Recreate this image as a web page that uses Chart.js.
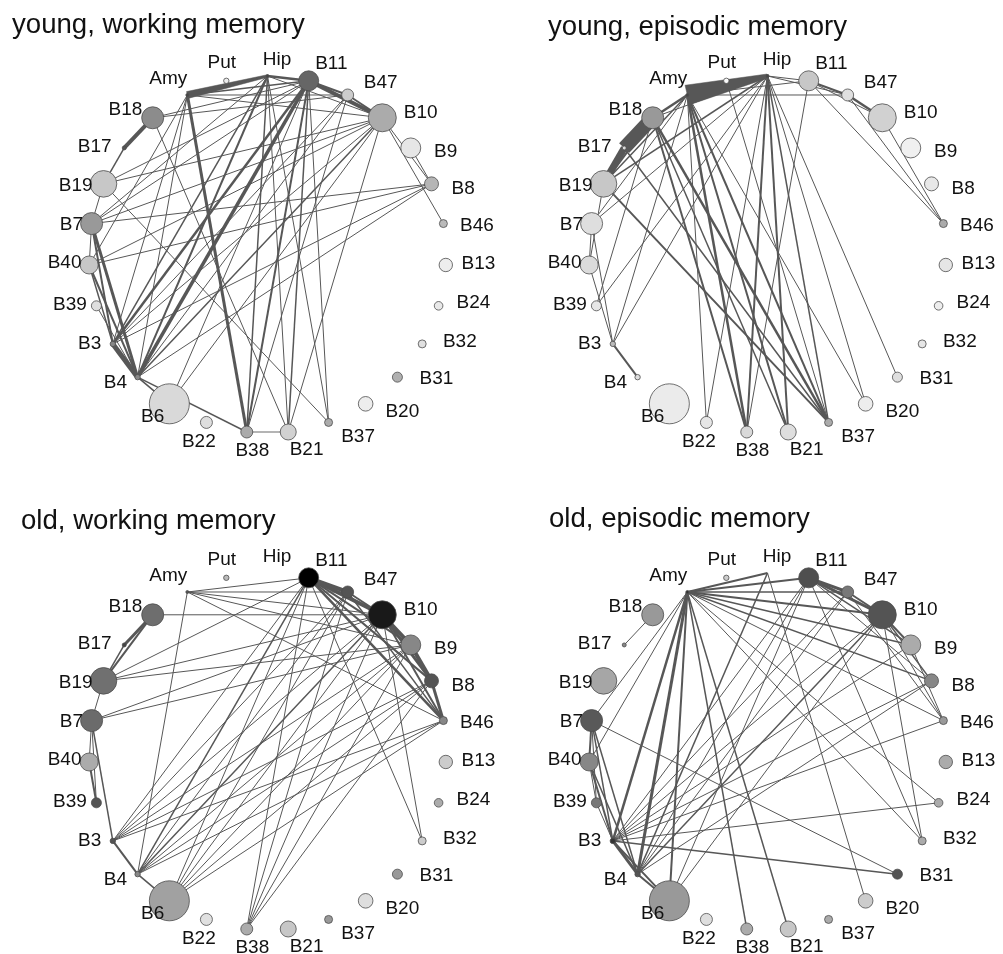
<!DOCTYPE html>
<html><head><meta charset="utf-8">
<script src="https://cdn.jsdelivr.net/npm/chart.js@4.4.1/dist/chart.umd.min.js"></script>
<style>
html,body{margin:0;padding:0;background:#fff;width:1003px;height:954px;overflow:hidden;}
.panel{position:absolute;}
canvas{display:block;}
</style></head><body>
<div class="panel" style="left:0;top:0"><canvas id="c0" width="500" height="497"></canvas></div>
<div class="panel" style="left:500px;top:0"><canvas id="c1" width="503" height="497"></canvas></div>
<div class="panel" style="left:0;top:497px"><canvas id="c2" width="500" height="457"></canvas></div>
<div class="panel" style="left:500px;top:497px"><canvas id="c3" width="503" height="457"></canvas></div>
<script>
// ---------------- data ----------------
const nodes = ["Hip","Put","Amy","B18","B17","B19","B7","B40","B39","B3","B4","B6","B22","B38","B21","B37","B20","B31","B32","B24","B13","B46","B8","B9","B10","B47","B11"];
// relative node size (same in every panel)
const nodeSize = [0.75,1.35,0.75,5.5,1,6.65,5.5,4.5,2.5,1.35,1.35,10,3,3,4,2,3.65,2.5,2,2.15,3.35,2,3.5,5,7,3,5];
// node shading (0 = white, 1 = black) per panel; null = no value
const shadeYoungWM = [.73,.07,.73,.45,.67,.22,.4,.22,.13,.47,.47,.15,.13,.33,.18,.33,.07,.31,.12,.09,.07,.27,.29,.1,.33,.2,.6];
const shadeYoungEM = [.73,.02,.73,.4,.15,.22,.13,.14,.1,.27,.13,.08,.1,.15,.13,.33,.07,.13,.1,.07,.1,.33,.09,.06,.18,.12,.22];
const shadeOldWM   = [null,.27,.67,.57,.73,.56,.58,.33,.67,.67,.47,.37,.12,.33,.22,.4,.13,.4,.2,.33,.2,.47,.67,.47,.9,.67,1.0];
const shadeOldEM   = [null,.2,.8,.4,.47,.35,.65,.47,.53,.8,.67,.4,.13,.33,.22,.33,.2,.67,.33,.33,.33,.4,.47,.33,.67,.53,.69];
// edges: [from, to, strength at "from", optional strength at "to"]; negative = weaker (light) link
const edgesYoungWM = [
 ["Amy","Hip",7,2.5],["Hip","B11",2.5],["Amy","B11",1.5],["B11","B47",2],["B11","B10",4],["B47","B10",2],["Hip","B10",1],["Amy","B10",1],["Amy","B47",1],["B10","B8",1],["B10","B46",1],["B9","B8",1],
 ["B18","B17",4],["B17","B19",1.5],["B19","B7",1],["B7","B40",1],["B7","B4",3],["B7","B3",2],["B40","B4",2],["B40","B3",1.5],["B39","B4",1],["B3","B4",5],["B4","B6",1.5],["B4","B38",1.5],
 ["B38","B21",-2],["Amy","B38",3],["Hip","B38",1.5],["B11","B38",2],["B11","B21",1.5],["Hip","B21",1],["B10","B21",1],["B47","B38",1],["B11","B4",3.5],["B11","B3",2.5],["Hip","B4",2],["Hip","B3",1.5],
 ["B10","B4",1.5],["B10","B3",1],["B8","B3",1],["B8","B4",1],["B8","B40",1],["B10","B7",1],["B10","B40",1],["B10","B19",1],["B11","B7",1],["B11","B19",1],["Amy","B4",1],["Amy","B3",1],["Amy","B40",1],
 ["Hip","B7",1],["B18","B11",1],["B18","B21",1],["B19","B37",1],["B11","B37",1],["Hip","B37",1],["B6","B11",1],["B6","B10",1],["B47","B3",1],["B47","B4",1],["B18","B47",1],["B7","B8",1]
];
const edgesYoungEM = [
 ["Amy","Hip",20,4],["B17","B18",14],["B17","B19",7],["B18","B19",2],["B18","Amy",2.5],["B19","Amy",1.5],["Hip","B11",1],["Amy","B11",1],["B11","B47",2],["B47","B10",2.5],["B11","B10",1],
 ["Amy","B47",1],["Hip","B47",1],["B11","B46",1],["B47","B46",1],["B10","B46",1],["Amy","B38",2.5],["Amy","B21",2],["Amy","B37",2],["Amy","B22",1],["Amy","B20",1],["Amy","B3",1],
 ["Hip","B38",2],["Hip","B21",2],["Hip","B37",1.5],["Hip","B20",1],["Hip","B31",1],["Hip","B22",1],["Hip","B3",1],["Hip","B39",1],["Hip","B19",1.5],["Hip","B7",1],
 ["B18","B37",2.5],["B19","B37",2],["B18","B38",2],["B17","B37",1.5],["Put","B37",1],["B18","B39",1],["B7","B40",1],["B40","B3",1],["B7","B3",1],["B3","B4",2],["B11","B38",1],["B19","B40",1],
 ["B7","Amy",1],["B18","B21",1.5],["Hip","B18",1]
];
const edgesOldWM = [
 ["B11","B47",4],["B11","B10",4],["B47","B10",2],["B10","B9",4],["B9","B8",4],["B10","B8",3],["B8","B46",3],["B11","B8",2],["B11","B46",2.5],["B11","B9",2],["B10","B46",2],["B47","B46",1.5],
 ["Amy","B11",1],["Amy","B47",1],["Amy","B10",1],["Amy","B9",1],["Amy","B46",1],
 ["B18","B10",1],["B18","B17",3],["B18","B19",2],["B17","B19",1.5],["B19","B11",1],["B19","B10",1],["B19","B9",1],["B7","B10",1],["B7","B9",1],["B19","B7",1],["B7","B40",1],["B7","B3",1.5],["B40","B39",2],["B7","B39",1],
 ["B3","B4",2],["B4","B6",1.5],
 ["B3","B11",1],["B3","B47",1],["B3","B10",1],["B3","B9",1],["B3","B8",1],["B3","B46",1],
 ["B4","B11",1.5],["B4","B47",1],["B4","B10",1.5],["B4","B9",1],["B4","B8",1],["B4","B46",1],["B4","Amy",1],
 ["B6","B11",1],["B6","B47",1],["B6","B10",1],["B6","B9",1],["B6","B8",1],["B6","B46",1],
 ["B38","B11",1],["B38","B47",1],["B38","B10",1],["B38","B9",1],["B38","B8",1],
 ["B32","B11",1],["B32","B10",1]
];
const edgesOldEM = [
 ["Amy","Hip",2],["Hip","B4",1.5],["Amy","B11",2],["Amy","B47",1.5],["Amy","B10",2],["Amy","B9",1.5],["Amy","B8",1.5],["Amy","B46",1],
 ["Amy","B7",1],["Amy","B40",1],["Amy","B3",2.5],["Amy","B4",3],["Amy","B6",2],["Amy","B38",1.5],["Amy","B21",1.5],["Amy","B32",1],["Amy","B24",1],
 ["B11","B47",3],["B11","B10",3],["B47","B10",2],["B10","B9",2],["B10","B8",1.5],["B11","B9",1.5],["B11","B8",1],["B47","B46",1],["B10","B46",1],["B9","B46",1],
 ["B11","B3",1],["B11","B4",1],["B11","B6",1],["B11","B32",1],["B47","B3",1],["B47","B4",1],["B10","B3",1],["B10","B4",1.5],["B10","B6",1],["B10","B32",1],["B9","B3",1],["B8","B3",1],["B46","B3",1],["B8","B4",1],
 ["Hip","B20",1],
 ["B7","B40",2],["B7","B39",1],["B7","B3",1.5],["B7","B4",1.5],["B7","B31",1],["B40","B39",1],["B40","B3",2],["B40","B4",1.5],["B39","B3",1],["B3","B4",3],["B3","B6",2],["B4","B6",2],["B3","B24",1],["B3","B31",1.5],["B18","B17",1]
];
const titles = ["young, working memory","young, episodic memory","old, working memory","old, episodic memory"];

// ---------------- drawing ----------------
const FONT = '"Liberation Sans", Arial, Helvetica, sans-serif';
const U = 178.6, CX = 267.5, CY = 254.6;
const N = nodes.length;
const angDeg = i => (90 + i * 360 / N) % 360;
const idx = Object.fromEntries(nodes.map((n, i) => [n, i]));
const gray = v => { if (v === null) return 'rgba(0,0,0,0)'; const l = Math.round(255 * (1 - v)); return `rgb(${l},${l},${l})`; };

function labelShift(t) {
  const Z = [0, 98, 177, 258, 360], A = [-6.5, 5.5, -4, 6.5];
  for (let k = 0; k < 4; k++) if (t >= Z[k] && t < Z[k + 1]) return A[k] * Math.sin(Math.PI * (t - Z[k]) / (Z[k + 1] - Z[k]));
  return 0;
}

const netPlugin = {
  id: 'netLabels',
  afterDatasetsDraw(chart, args, opts) {
    const { ctx } = chart; const xs = chart.scales.x, ys = chart.scales.y;
    ctx.save();
    ctx.fillStyle = '#111';
    ctx.font = '19px ' + FONT;
    ctx.textAlign = 'center'; ctx.textBaseline = 'middle';
    nodes.forEach((n, i) => {
      const t = angDeg(i);
      const phi = (t + labelShift(t)) * Math.PI / 180;
      const w = ctx.measureText(n).width;
      const R = (190 + (w / 2) * Math.abs(Math.cos(phi)) + 5 * Math.abs(Math.sin(phi))) / U;
      const lx = 4 / U + R * Math.cos(phi), ly = R * Math.sin(phi);
      ctx.fillText(n, xs.getPixelForValue(lx), ys.getPixelForValue(ly));
    });
    ctx.font = '27.6px ' + FONT;
    ctx.textAlign = 'left'; ctx.textBaseline = 'alphabetic';
    ctx.fillText(opts.text, opts.x, opts.y);
    ctx.restore();
  }
};

function build(id, title, tx, ty, shade, edges) {
  const cv = document.getElementById(id);
  const W = cv.width, H = cv.height;
  const pt = i => { const a = angDeg(i) * Math.PI / 180; return { x: Math.cos(a), y: Math.sin(a) }; };
  const datasets = [{
    type: 'scatter', order: 0,
    data: nodes.map((n, i) => pt(i)),
    pointRadius: nodeSize.map(v => v * 2),
    pointHoverRadius: nodeSize.map(v => v * 2),
    pointBackgroundColor: shade.map(gray),
    pointBorderColor: shade.map(v => v === null ? 'rgba(0,0,0,0)' : '#4d4d4d'),
    pointBorderWidth: 0.8, showLine: false
  }];
  edges.forEach(([a, b, s, s2]) => {
    const A = pt(idx[a]), B = pt(idx[b]);
    const col = s < 0 ? '#b4b4b4' : '#575757';
    if (s2 === undefined || s2 === s) {
      datasets.push({ type: 'scatter', order: 1, showLine: true, data: [A, B],
        borderColor: col, borderWidth: Math.abs(s), pointRadius: 0, pointHoverRadius: 0, fill: false });
    } else {
      // tapered link: polygon whose width changes from one end to the other
      const dx = B.x - A.x, dy = B.y - A.y, L = Math.hypot(dx, dy);
      const nx = -dy / L, ny = dx / L, ha = Math.abs(s) / 2 / U, hb = Math.abs(s2) / 2 / U;
      const poly = [
        { x: A.x + nx * ha, y: A.y + ny * ha }, { x: B.x + nx * hb, y: B.y + ny * hb },
        { x: B.x - nx * hb, y: B.y - ny * hb }, { x: A.x - nx * ha, y: A.y - ny * ha },
        { x: A.x + nx * ha, y: A.y + ny * ha }];
      datasets.push({ type: 'scatter', order: 1, showLine: true, data: poly,
        borderColor: col, backgroundColor: col, borderWidth: 0.5, pointRadius: 0, pointHoverRadius: 0,
        fill: 'shape', tension: 0 });
    }
  });
  new Chart(cv, {
    type: 'scatter',
    data: { datasets },
    options: {
      responsive: false, animation: false, devicePixelRatio: 1, events: [],
      layout: { padding: 0, autoPadding: false },
      plugins: { legend: { display: false }, tooltip: { enabled: false }, title: { display: false },
                 netLabels: { text: title, x: tx, y: ty } },
      scales: {
        x: { type: 'linear', display: false, min: -CX / U, max: (W - CX) / U },
        y: { type: 'linear', display: false, min: -(H - CY) / U, max: CY / U }
      }
    },
    plugins: [netPlugin]
  });
}
build('c0', titles[0], 12, 33, shadeYoungWM, edgesYoungWM);
build('c1', titles[1], 48, 35, shadeYoungEM, edgesYoungEM);
build('c2', titles[2], 21, 32, shadeOldWM, edgesOldWM);
build('c3', titles[3], 49, 30, shadeOldEM, edgesOldEM);
</script>
</body></html>
